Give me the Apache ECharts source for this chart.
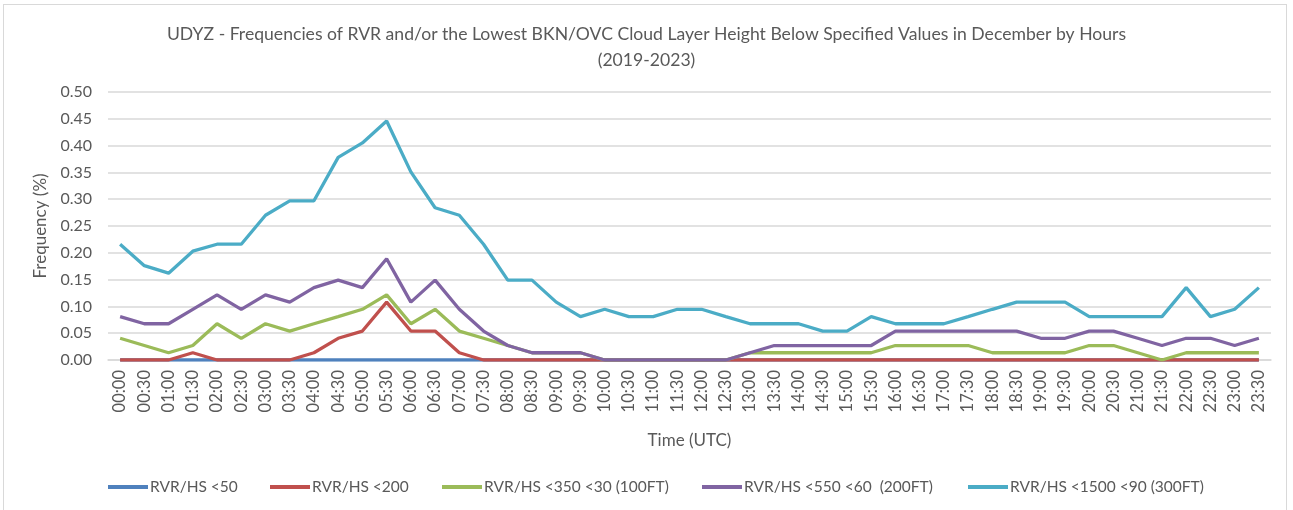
<!DOCTYPE html>
<html>
<head>
<meta charset="utf-8">
<script src="https://cdn.jsdelivr.net/npm/echarts@6/dist/echarts.min.js"></script>
<style>
  html, body { margin: 0; padding: 0; background: #fff; }
  #frame { position: absolute; left: 3px; top: 4px; width: 1282px; height: 520px; border: 1px solid #d9d9d9; }
  #charts { position: absolute; left: 0; top: 0; width: 1293px; height: 510px; }
</style>
</head>
<body>
<div id="frame"></div>
<div id="charts"></div>
<script>
// half hour slots
var times = ["00:00","00:30","01:00","01:30","02:00","02:30","03:00","03:30","04:00","04:30","05:00","05:30",
  "06:00","06:30","07:00","07:30","08:00","08:30","09:00","09:30","10:00","10:30","11:00","11:30",
  "12:00","12:30","13:00","13:30","14:00","14:30","15:00","15:30","16:00","16:30","17:00","17:30",
  "18:00","18:30","19:00","19:30","20:00","20:30","21:00","21:30","22:00","22:30","23:00","23:30"];

var rvr50 = [0,0,0,0,0,0,0,0,0,0,0,0, 0,0,0,0,0,0,0,0,0,0,0,0,
  0,0,0,0,0,0,0,0,0,0,0,0, 0,0,0,0,0,0,0,0,0,0,0,0];
var rvr200 = [0,0,0,0.0135,0,0,0,0,0.0135,0.0405,0.054,0.108,
  0.054,0.054,0.0135,0,0,0,0,0,0,0,0,0,
  0,0,0,0,0,0,0,0,0,0,0,0, 0,0,0,0,0,0,0,0,0,0,0,0];
var rvr350 = [0.0405,0.027,0.0135,0.027,0.0676,0.0405,0.0676,0.054,0.0676,0.081,0.0946,0.1216,
  0.0676,0.0946,0.054,0.0405,0.027,0.0135,0.0135,0.0135,0,0,0,0,
  0,0,0.0135,0.0135,0.0135,0.0135,0.0135,0.0135,0.027,0.027,0.027,0.027,
  0.0135,0.0135,0.0135,0.0135,0.027,0.027,0.0135,0,0.0135,0.0135,0.0135,0.0135];
var rvr550 = [0.081,0.0676,0.0676,0.0946,0.1216,0.0946,0.1216,0.108,0.135,0.149,0.135,0.189,
  0.108,0.149,0.0946,0.054,0.027,0.0135,0.0135,0.0135,0,0,0,0,
  0,0,0.0135,0.027,0.027,0.027,0.027,0.027,0.054,0.054,0.054,0.054,
  0.054,0.054,0.0405,0.0405,0.054,0.054,0.0405,0.027,0.0405,0.0405,0.027,0.0405];
var rvr1500 = [0.216,0.176,0.162,0.203,0.216,0.216,0.270,0.297,0.297,0.378,0.405,0.446,
  0.351,0.284,0.270,0.216,0.149,0.149,0.108,0.081,0.0946,0.081,0.081,0.0946,
  0.0946,0.081,0.0676,0.0676,0.0676,0.054,0.054,0.081,0.0676,0.0676,0.0676,0.081,
  0.0946,0.108,0.108,0.108,0.081,0.081,0.081,0.081,0.135,0.081,0.0946,0.135];

var names = ["RVR/HS <50", "RVR/HS <200", "RVR/HS <350 <30 (100FT)", "RVR/HS <550 <60  (200FT)", "RVR/HS <1500 <90 (300FT)"];
var colors = ["#4f81bd", "#c0504d", "#9bbb59", "#8064a2", "#4bacc6"];
var values = [rvr50, rvr200, rvr350, rvr550, rvr1500];
var legendLeft = [103, 265, 437, 697, 963];

var font = "Lato, 'Open Sans', sans-serif";
var textColor = "#595959";

var myChart = echarts.init(document.getElementById("charts"));

var legends = [];
var series = [];
for (var i = 0; i < names.length; i++) {
  legends.push({
    data: [names[i]],
    left: legendLeft[i],
    top: 474,
    icon: "rect",
    itemWidth: 40,
    itemHeight: 4,
    itemGap: 0,
    textStyle: { color: textColor, fontSize: 15.5, fontFamily: font, padding: [0, 0, 0, -3] },
    selectedMode: false
  });
  series.push({
    name: names[i],
    type: "line",
    data: values[i],
    symbol: "none",
    color: colors[i],
    lineStyle: { width: 3.3, color: colors[i] },
    animation: false
  });
}

var option = {
  backgroundColor: "transparent",
  title: {
    text: "UDYZ - Frequencies of RVR and/or the Lowest BKN/OVC Cloud Layer Height Below Specified Values in December by Hours\n(2019-2023)",
    left: "center",
    top: 16,
    textStyle: { color: textColor, fontSize: 17.6, fontWeight: "normal", fontFamily: font, lineHeight: 26 }
  },
  legend: legends,
  grid: { left: 108, right: 22, top: 92, bottom: 150 },
  xAxis: {
    type: "category",
    data: times,
    boundaryGap: true,
    name: "Time (UTC)",
    nameLocation: "middle",
    nameGap: 72,
    nameTextStyle: { color: textColor, fontSize: 17, fontFamily: font },
    axisLine: { show: true, lineStyle: { color: "#d9d9d9", width: 1.5 } },
    axisTick: { show: false },
    axisLabel: { rotate: 90, interval: 0, margin: 10, color: textColor, fontSize: 16.5, fontFamily: font }
  },
  yAxis: {
    type: "value",
    min: 0,
    max: 0.5,
    interval: 0.05,
    name: "Frequency (%)",
    nameLocation: "middle",
    nameGap: 57,
    nameTextStyle: { color: textColor, fontSize: 17, fontFamily: font },
    axisLine: { show: false },
    axisTick: { show: false },
    splitLine: { show: true, lineStyle: { color: "#d9d9d9", width: 1.5 } },
    axisLabel: {
      color: textColor, fontSize: 16, fontFamily: font, margin: 16,
      formatter: function (v) { return v.toFixed(2); }
    }
  },
  series: series
};

myChart.setOption(option);
</script>
</body>
</html>
